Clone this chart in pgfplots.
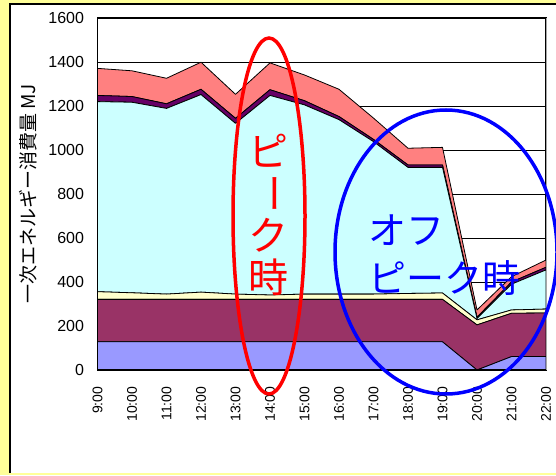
\documentclass[border=0pt]{standalone}
\usepackage{fontspec}
\setmainfont{Liberation Sans}
\newfontfamily\jp{Noto Sans CJK JP}
\usepackage{pgfplots}
\pgfplotsset{compat=1.18}
\usepackage{pgfplotstable}

\definecolor{bgyellow}{HTML}{FFFF99}
\definecolor{cBlue}{HTML}{9999FF}
\definecolor{cMaroon}{HTML}{993366}
\definecolor{cCream}{HTML}{FFFFCC}
\definecolor{cCyan}{HTML}{CCFFFF}
\definecolor{cPurple}{HTML}{660066}
\definecolor{cSalmon}{HTML}{FF8080}

% hourly primary energy by component (stacked layers, MJ)
\pgfplotstableread{
x  blue maroon cream cyan purple salmon
0  128  193    35    864  28     123
1  128  193    30    866  26     117
2  128  193    24    844  21     116
3  128  193    33    898  24     123
4  128  193    24    776  23     109
5  128  193    20    907  26     122
6  128  193    24    860  19     117
7  128  193    24    793  14     124
8  128  193    24    693  10     97
9  128  193    27    573  11     76
10 128  193    29    571  11     80
11 0    205    23    6    6      33
12 61   197    15    117  10     24
13 61   198    18    178  12     33
}\energy

\begin{document}
\begin{tikzpicture}
\useasboundingbox (0pt,0pt) rectangle (556pt,475pt);
\begin{scope}[x=1pt,y=1pt]
  \fill[bgyellow] (0,0) rectangle (556,475);
  \fill[white] (10,2) rectangle (556,471);
  \draw[black, line width=1.5pt] (10,2) -- (10,471) -- (556,471);
\end{scope}

\begin{axis}[
  at={(97.5pt,105pt)}, anchor=south west,
  scale only axis, width=448.5pt, height=352pt,
  xmin=0, xmax=13, ymin=0, ymax=1600,
  stack plots=y,
  xtick={0,...,13},
  xticklabels={9:00,10:00,11:00,12:00,13:00,14:00,15:00,16:00,17:00,18:00,19:00,20:00,21:00,22:00},
  ytick={0,200,...,1600},
  ymajorgrids,
  major grid style={black, line width=0.7pt},
  tick align=inside, xtick pos=bottom, ytick pos=left,
  major tick length=0pt,
  axis line style={black, line width=1.2pt},
  /pgf/number format/assume math mode=true,
  /pgf/number format/1000 sep={},
  yticklabel style={font=\fontsize{16}{16}\selectfont, xshift=-10pt},
  xticklabel style={font=\fontsize{14}{14}\selectfont, rotate=90, anchor=east, xshift=-13pt},
  ylabel={\jp 一次エネルギー消費量 MJ},
  ylabel style={font=\fontsize{19}{19}\selectfont, at={(axis description cs:-0.155,0.5)}, anchor=center, rotate=0},
  every axis plot/.append style={draw=black, line width=0.8pt, line join=round},
  after end axis/.code={
    \draw[black, line width=1pt] (rel axis cs:0,1) -- (rel axis cs:1,1);
    \draw[gray!70, line width=1pt] (rel axis cs:1,0) -- (rel axis cs:1,1);
    \draw[black, line width=1.3pt] (rel axis cs:0,1) -- (rel axis cs:0,0) -- (rel axis cs:1,0);
  },
]
\addplot[fill=cBlue]   table[x=x, y=blue]   {\energy} \closedcycle;
\addplot[fill=cMaroon] table[x=x, y=maroon] {\energy} \closedcycle;
\addplot[fill=cCream]  table[x=x, y=cream]  {\energy} \closedcycle;
\addplot[fill=cCyan]   table[x=x, y=cyan]   {\energy} \closedcycle;
\addplot[fill=cPurple] table[x=x, y=purple] {\energy} \closedcycle;
\addplot[fill=cSalmon] table[x=x, y=salmon] {\energy} \closedcycle;
% inward tick marks, drawn over the areas
\pgfplotsinvokeforeach{1,...,12}{
  \draw[black, line width=0.8pt] (axis cs:#1,0) -- ++(0pt,5pt);
}
\pgfplotsinvokeforeach{200,400,600,800,1000,1200,1400}{
  \draw[black, line width=0.8pt] (axis cs:0,#1) -- ++(5pt,0pt);
}
\end{axis}

\begin{scope}[x=1pt,y=1pt]
  \clip (0,0) rectangle (556,475);
  % peak hours
  \draw[red, line width=3.5pt] (269,259) ellipse [x radius=36, y radius=178];
  \begin{scope}[every node/.style={text=red, inner sep=0pt, font=\jp\fontsize{40}{40}\selectfont}]
    \node at (268,324) {ピ};
    \node at (268,282) {\rotatebox[origin=c]{-90}{ー}};
    \node at (268,240) {ク};
    \node at (268,198) {時};
  \end{scope}
  % off-peak hours
  \draw[blue, line width=3.5pt] (446,223) ellipse [x radius=111, y radius=142];
  \begin{scope}[every node/.style={text=blue, inner sep=0pt, anchor=west, font=\jp\fontsize{38}{38}\selectfont}]
    \node at (368,245) {オフ};
    \node at (368,197) {ピーク時};
  \end{scope}
\end{scope}
\end{tikzpicture}
\end{document}
